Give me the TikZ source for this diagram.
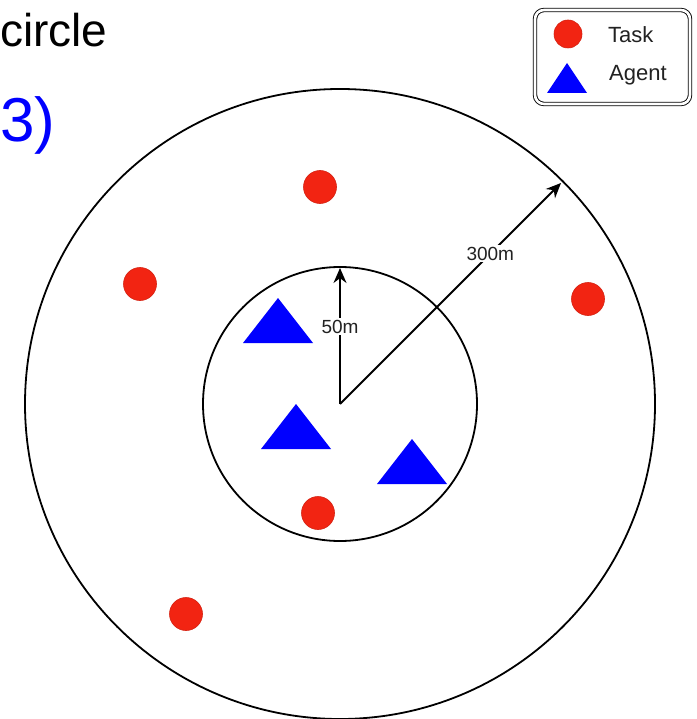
\documentclass[tikz,border=0pt]{standalone}
\usepackage{fontspec}
\setmainfont{Liberation Sans}
\usetikzlibrary{arrows.meta}
\definecolor{taskred}{RGB}{242,36,18}
\definecolor{agentblue}{RGB}{0,0,255}
\definecolor{txtgray}{RGB}{34,34,34}
\tikzset{
  x=1pt, y=-1pt,
  ring/.style={draw=black, line width=1.8pt},
  tasknode/.style={circle, fill=taskred, draw=taskred!88!black, line width=0.6pt, minimum size=33pt, inner sep=0pt},
  radiusarrow/.style={line width=1.8pt, -{Stealth[length=15pt,width=13pt]}},
  distlabel/.style={fill=white, inner sep=1.5pt, font=\fontsize{19}{22}\selectfont, text=txtgray},
  legendbox/.style={draw=black, double=white, double distance=2.6pt, line width=0.9pt, rounded corners=9pt},
  legendtext/.style={anchor=west, font=\fontsize{22}{26}\selectfont, text=txtgray, inner sep=0pt},
}
\newcommand{\agenttri}[2]{\fill[agentblue] (#1,#2) -- ++(-35,45) -- ++(70,0) -- cycle;}
\begin{document}
\begin{tikzpicture}
\useasboundingbox (0,0) rectangle (696,719);
\fill[white] (0,0) rectangle (696,719);

% slide text fragments
\node[anchor=base west, inner sep=0pt, font=\fontsize{46}{50}\selectfont] (t1) at (0,47) {circle};
\node[anchor=base west, inner sep=0pt, text=agentblue, font=\fontsize{62}{66}\selectfont] (t2) at (0,142) {3)};

% circles
\coordinate (c) at (340,404);
\draw[ring] (c) circle[radius=315pt];
\draw[ring] (c) circle[radius=137pt];

% radius arrows
\coordinate (p50) at (340,268);
\coordinate (p300) at (561,183);
\draw[radiusarrow] (c) -- node[distlabel, pos=0.57] (l50) {50m} (p50);
\draw[radiusarrow] (c) -- node[distlabel, pos=0.68] (l300) {300m} (p300);

% tasks
\node[tasknode] (task1) at (320,187) {};
\node[tasknode] (task2) at (140,284) {};
\node[tasknode] (task3) at (588,299) {};
\node[tasknode] (task4) at (318,513) {};
\node[tasknode] (task5) at (186,614) {};

% agents
\agenttri{278}{298}
\agenttri{296}{404}
\agenttri{412}{439}

% legend
\draw[legendbox] (535,10) rectangle (690,104);
\node[tasknode, minimum size=28pt] (legtask) at (568,34) {};
\fill[agentblue] (567,63) -- (547,93) -- (587,93) -- cycle;
\node[legendtext] (legtasktext) at (608,35) {Task};
\node[legendtext] (legagenttext) at (609,75) {Agent};
\end{tikzpicture}
\end{document}
